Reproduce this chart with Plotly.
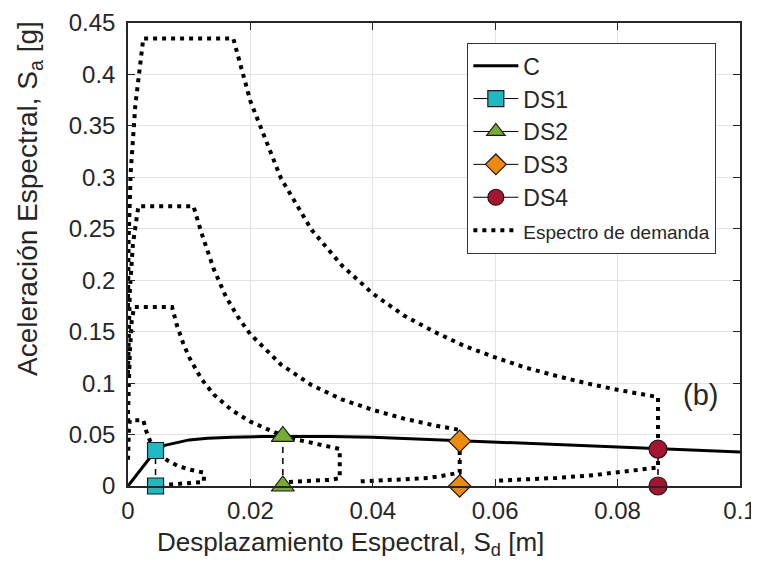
import plotly.graph_objects as go

# ---------------- data ----------------
# Capacity curve C
cap_sd = [0.0, 0.0045, 0.006, 0.008, 0.010, 0.013, 0.017, 0.022, 0.027, 0.033,
          0.040, 0.047, 0.054, 0.065, 0.075, 0.0866, 0.100]
cap_sa = [0.0, 0.0345, 0.0395, 0.0425, 0.0448, 0.0463, 0.0474, 0.0480, 0.0482, 0.0481,
          0.0475, 0.0458, 0.0437, 0.0410, 0.0385, 0.0358, 0.0330]

# Damage-state points (Sd, Sa)
ds_names = ["DS1", "DS2", "DS3", "DS4"]
ds_sd = [0.0045, 0.0253, 0.0542, 0.0866]
ds_sa = [0.0345, 0.0482, 0.0436, 0.0358]

# Demand spectra (ADRS format)
spec1_sd = [0.0, 0.0001, 0.00044, 0.0012, 0.0025, 0.0172, 0.020, 0.025, 0.030, 0.035,
            0.040, 0.045, 0.050, 0.055, 0.060, 0.065, 0.070, 0.075, 0.080, 0.0866,
            0.0866, 0.084, 0.080, 0.076, 0.070, 0.065, 0.0605]
spec1_sa = [0.174, 0.240, 0.305, 0.370, 0.435, 0.435, 0.374, 0.299, 0.249, 0.214,
            0.187, 0.166, 0.150, 0.136, 0.125, 0.115, 0.107, 0.0997, 0.0935, 0.0864,
            0.018, 0.016, 0.013, 0.0105, 0.0078, 0.0062, 0.0052]

spec2_sd = [0.0, 0.0001, 0.0003, 0.0008, 0.0017, 0.0107, 0.012, 0.014, 0.016, 0.018,
            0.020, 0.025, 0.030, 0.035, 0.040, 0.045, 0.050, 0.0542,
            0.0542, 0.052, 0.049, 0.045, 0.041, 0.038]
spec2_sa = [0.109, 0.150, 0.190, 0.235, 0.272, 0.272, 0.246, 0.211, 0.184, 0.164,
            0.1475, 0.118, 0.098, 0.084, 0.074, 0.0656, 0.059, 0.0545,
            0.013, 0.0105, 0.0078, 0.0065, 0.0052, 0.0045]

spec3_sd = [0.0, 0.0001, 0.0003, 0.0006, 0.0010, 0.0072, 0.008, 0.009, 0.010, 0.012,
            0.014, 0.017, 0.020, 0.024, 0.028, 0.0346,
            0.0346, 0.033, 0.030, 0.026]
spec3_sa = [0.070, 0.100, 0.130, 0.160, 0.174, 0.174, 0.156, 0.139, 0.125, 0.104,
            0.089, 0.0735, 0.0625, 0.052, 0.0446, 0.036,
            0.0075, 0.006, 0.0048, 0.0038]

spec4_sd = [0.0, 0.00005, 0.00015, 0.0003, 0.0025, 0.003, 0.0036, 0.0045, 0.0055,
            0.0066, 0.008, 0.0099, 0.0124, 0.0124, 0.010, 0.007, 0.0045]
spec4_sa = [0.0256, 0.040, 0.055, 0.064, 0.064, 0.053, 0.044, 0.0356, 0.029,
            0.0243, 0.020, 0.0162, 0.0129, 0.004, 0.0025, 0.0015, 0.001]

x_ticks = [0, 0.02, 0.04, 0.06, 0.08, 0.1]
y_ticks = [0, 0.05, 0.1, 0.15, 0.2, 0.25, 0.3, 0.35, 0.4, 0.45]

# ---------------- styles ----------------
ds_colors = ["#1FB9C2", "#76AC30", "#EE8A0E", "#A6142F"]
ds_symbols = ["square", "triangle-up", "diamond", "circle"]
ds_sizes = [16, 20, 17, 18]
FONT = "Arial, Liberation Sans, sans-serif"
TXT = "#262626"

fig = go.Figure()

# demand spectra
specs = [(spec1_sd, spec1_sa), (spec2_sd, spec2_sa), (spec3_sd, spec3_sa), (spec4_sd, spec4_sa)]
for i, (sx, sy) in enumerate(specs):
    fig.add_trace(go.Scatter(
        x=sx, y=sy, mode="lines",
        line=dict(color="black", width=4, dash="4px,5px"),
        name='<span style="font-size:19px">Espectro de demanda</span>',
        legendgroup="esp", showlegend=(i == 0), legendrank=6,
        cliponaxis=False,
    ))

# capacity curve
fig.add_trace(go.Scatter(
    x=cap_sd, y=cap_sa, mode="lines",
    line=dict(color="black", width=3),
    name="C", legendgroup="c", legendrank=1,
))

# damage states
for i in range(4):
    fig.add_trace(go.Scatter(
        x=[ds_sd[i], ds_sd[i]], y=[0, ds_sa[i]], mode="lines",
        line=dict(color="black", width=1.5, dash="6px,5px"),
        showlegend=False, hoverinfo="skip",
    ))
for i in range(4):
    fig.add_trace(go.Scatter(
        x=[ds_sd[i], None, ds_sd[i]], y=[0, None, ds_sa[i]],
        mode="lines+markers", connectgaps=False,
        line=dict(color="black", width=1),
        marker=dict(symbol=ds_symbols[i], size=ds_sizes[i], color=ds_colors[i],
                    line=dict(color="#1a1a1a", width=1.2)),
        name=ds_names[i], legendgroup=ds_names[i], legendrank=2 + i,
        cliponaxis=False,
    ))

axis_common = dict(
    showgrid=True, gridcolor="#E3E3E3", gridwidth=1,
    zeroline=False, automargin=False, ticklabeloverflow="allow",
    showline=True, linecolor="#262626", linewidth=1.5, mirror="ticks",
    ticks="inside", ticklen=7, tickwidth=1.3, tickcolor="#262626",
)

fig.update_xaxes(range=[0, 0.1], tickvals=x_ticks, ticktext=[f"{v:g}" for v in x_ticks],
                 ticklabelstandoff=2, tickfont=dict(family=FONT, size=24, color=TXT),
                 **axis_common)
fig.update_yaxes(range=[0, 0.45], tickvals=y_ticks, ticktext=[f"{v:g}" for v in y_ticks],
                 ticklabelstandoff=6, tickfont=dict(family=FONT, size=24, color=TXT),
                 **axis_common)

fig.update_layout(
    width=759, height=578,
    margin=dict(l=120, r=27, t=15, b=100),
    paper_bgcolor="white", plot_bgcolor="white",
    font=dict(family=FONT, color=TXT),
    showlegend=True,
    legend=dict(
        x=0.554, y=0.957, xanchor="left", yanchor="top",
        bgcolor="white", bordercolor="#333333", borderwidth=1.3,
        font=dict(family=FONT, size=23, color=TXT),
        traceorder="grouped", tracegroupgap=0, itemwidth=45,
    ),
    annotations=[
        dict(text="(b)", x=0.0935, y=0.088, xref="x", yref="y",
             showarrow=False, font=dict(family=FONT, size=29, color=TXT)),
        dict(text="Desplazamiento Espectral, S<sub>d</sub> [m]",
             x=0.363, y=-0.085, xref="paper", yref="paper", xanchor="center", yanchor="top",
             showarrow=False, font=dict(family=FONT, size=26, color=TXT)),
        dict(text="Aceleración Espectral, S<sub>a</sub> [g]",
             x=-0.16, y=0.62, xref="paper", yref="paper", xanchor="center", yanchor="middle",
             textangle=-90, showarrow=False, font=dict(family=FONT, size=28, color=TXT)),
    ],
)

fig.write_html("out.html")
